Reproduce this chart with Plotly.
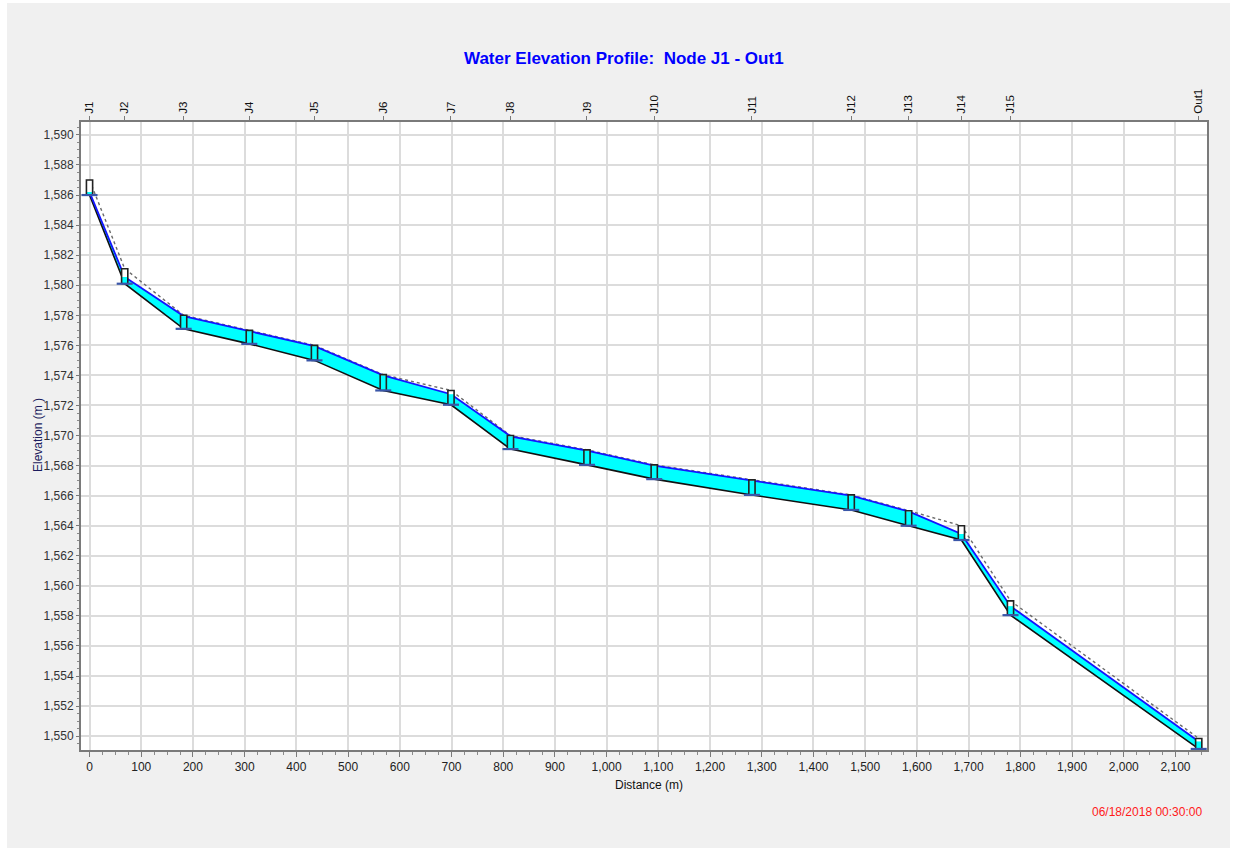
import plotly.graph_objects as go

# Node profile along the flow path J1 -> Out1
nodes = ["J1", "J2", "J3", "J4", "J5", "J6", "J7", "J8", "J9", "J10",
         "J11", "J12", "J13", "J14", "J15", "Out1"]
distance = [0, 68, 182, 309, 435, 568, 699, 814, 962, 1092,
            1281, 1473, 1584, 1686, 1781, 2145]
invert = [1586.0, 1580.1, 1577.1, 1576.1, 1575.0, 1573.0, 1572.05, 1569.1,
          1568.05, 1567.1, 1566.05, 1565.05, 1564.0, 1563.05, 1558.05, 1549.15]
crown = [1587.0, 1581.1, 1578.0, 1577.0, 1576.0, 1574.05, 1573.0, 1570.0,
         1569.05, 1568.05, 1567.05, 1566.05, 1565.0, 1564.0, 1559.0, 1549.85]
water = [1586.2, 1580.55, 1577.95, 1576.95, 1575.95, 1574.0, 1572.75, 1569.95,
         1569.0, 1568.0, 1567.0, 1566.0, 1564.95, 1563.45, 1558.65, 1549.65]

x_ticks = list(range(0, 2101, 100))
y_ticks = list(range(1550, 1591, 2))

W, H = 1237, 863
L, R, T, B = 81, 1207, 122, 750
XR = [-16.5, 2161]
YR = [1549.08, 1590.86]

FONT = "Liberation Sans, Arial, sans-serif"
CYAN = "#00ffff"
BOX_HW = 6.0      # half width of a junction box, metres
MARK_HW = 15.5    # half width of the invert marker, metres


def px(xp):
    return (xp - L) / (R - L)


def py(yp):
    return (B - yp) / (B - T)


fig = go.Figure()

# water between invert and water surface, one polygon per conduit
for i in range(len(nodes) - 1):
    x0, x1 = distance[i], distance[i + 1]
    fig.add_trace(go.Scatter(
        x=[x0, x1, x1, x0, x0],
        y=[invert[i], invert[i + 1], water[i + 1], water[i], invert[i]],
        mode="lines", fill="toself", fillcolor=CYAN,
        line=dict(width=0, color=CYAN), hoverinfo="skip", showlegend=False))

# conduit crown
fig.add_trace(go.Scatter(x=distance, y=crown, mode="lines",
                         line=dict(color="#6a6a6a", width=1.4, dash="dot"),
                         hoverinfo="skip", showlegend=False))
# conduit invert
fig.add_trace(go.Scatter(x=distance, y=invert, mode="lines",
                         line=dict(color="#111111", width=1.6),
                         hoverinfo="skip", showlegend=False))
# water surface
fig.add_trace(go.Scatter(x=distance, y=water, mode="lines",
                         line=dict(color="#1414ff", width=1.8),
                         name="Water surface", showlegend=False))

# junction boxes
for d, inv, cr, wt in zip(distance, invert, crown, water):
    fig.add_trace(go.Scatter(
        x=[d - BOX_HW, d + BOX_HW, d + BOX_HW, d - BOX_HW, d - BOX_HW],
        y=[inv, inv, cr, cr, inv], mode="lines", fill="toself",
        fillcolor="white", line=dict(width=0, color="white"),
        hoverinfo="skip", showlegend=False))
    top = min(wt, cr)
    fig.add_trace(go.Scatter(
        x=[d - BOX_HW, d + BOX_HW, d + BOX_HW, d - BOX_HW, d - BOX_HW],
        y=[inv, inv, top, top, inv], mode="lines", fill="toself",
        fillcolor=CYAN, line=dict(width=0, color=CYAN),
        hoverinfo="skip", showlegend=False))
    fig.add_trace(go.Scatter(
        x=[d - BOX_HW, d + BOX_HW, d + BOX_HW, d - BOX_HW, d - BOX_HW],
        y=[inv, inv, cr, cr, inv], mode="lines",
        line=dict(color="#222222", width=1.6),
        hoverinfo="skip", showlegend=False))
    fig.add_trace(go.Scatter(
        x=[d - MARK_HW, d + MARK_HW], y=[inv, inv], mode="lines",
        line=dict(color="#3a56a8", width=2.2),
        hoverinfo="skip", showlegend=False))

# invisible trace so the node axis on top is drawn
fig.add_trace(go.Scatter(x=distance, y=invert, xaxis="x2", mode="markers",
                         marker=dict(opacity=0), hoverinfo="skip",
                         showlegend=False))

fig.update_layout(
    width=W, height=H,
    margin=dict(l=L, r=W - R, t=T, b=H - B, pad=0),
    paper_bgcolor="#f0f0f0",
    plot_bgcolor="white",
    font=dict(family=FONT, size=12, color="#222222"),
    showlegend=False,
    xaxis=dict(
        range=XR, tickvals=x_ticks, tickformat=",d",
        showgrid=True, gridcolor="#dcdcdc", gridwidth=2,
        zeroline=False, showline=True, linecolor="#7a7a7a", linewidth=2,
        mirror=True, ticks="outside", ticklen=5, tickcolor="#7a7a7a",
        tickwidth=1, tickfont=dict(size=12, color="#222222"),
        minor=dict(dtick=25, tick0=0, ticks="outside", ticklen=3,
                   tickcolor="#8a8a8a", showgrid=False),
    ),
    xaxis2=dict(
        range=XR, overlaying="x", side="top", anchor="y",
        tickmode="array", tickvals=distance, ticktext=nodes,
        tickangle=-90, ticks="outside", ticklen=5, tickcolor="#7a7a7a",
        tickfont=dict(size=11.5, color="#111111"),
        showgrid=False, zeroline=False, showline=False,
    ),
    yaxis=dict(
        range=YR, tickvals=y_ticks, tickformat=",d",
        showgrid=True, gridcolor="#dcdcdc", gridwidth=2,
        zeroline=False, showline=True, linecolor="#7a7a7a", linewidth=2,
        mirror=True, ticks="outside", ticklen=3, tickcolor="#7a7a7a",
        tickfont=dict(size=12, color="#333333"),
        minor=dict(dtick=0.5, ticks="outside", ticklen=2,
                   tickcolor="#8a8a8a", showgrid=False),
    ),
    annotations=[
        dict(text="<b>Water Elevation Profile:  Node J1 - Out1</b>",
             xref="paper", yref="paper", x=px(624), y=py(58),
             xanchor="center", yanchor="middle", showarrow=False,
             font=dict(family=FONT, size=17, color="#0000ff")),
        dict(text="Distance (m)", xref="paper", yref="paper",
             x=px(649), y=py(785), xanchor="center", yanchor="middle",
             showarrow=False, font=dict(size=12, color="#111111")),
        dict(text="Elevation (m )", xref="paper", yref="paper",
             x=px(38), y=py(435), xanchor="center", yanchor="middle",
             textangle=-90, showarrow=False,
             font=dict(size=12, color="#1c1c5e")),
        dict(text="06/18/2018 00:30:00", xref="paper", yref="paper",
             x=px(1204), y=py(812), xanchor="right", yanchor="middle",
             showarrow=False, font=dict(size=12, color="#ff1a1a")),
    ],
    shapes=[
        dict(type="rect", xref="paper", yref="paper", layer="above",
             x0=px(0), x1=px(7), y0=py(H), y1=py(0),
             fillcolor="white", line=dict(width=0)),
        dict(type="rect", xref="paper", yref="paper", layer="above",
             x0=px(1230), x1=px(W), y0=py(H), y1=py(0),
             fillcolor="white", line=dict(width=0)),
        dict(type="rect", xref="paper", yref="paper", layer="above",
             x0=px(0), x1=px(W), y0=py(H), y1=py(848),
             fillcolor="white", line=dict(width=0)),
        dict(type="rect", xref="paper", yref="paper", layer="above",
             x0=px(0), x1=px(W), y0=py(3), y1=py(0),
             fillcolor="white", line=dict(width=0)),
    ],
)

fig.write_html("out.html")
